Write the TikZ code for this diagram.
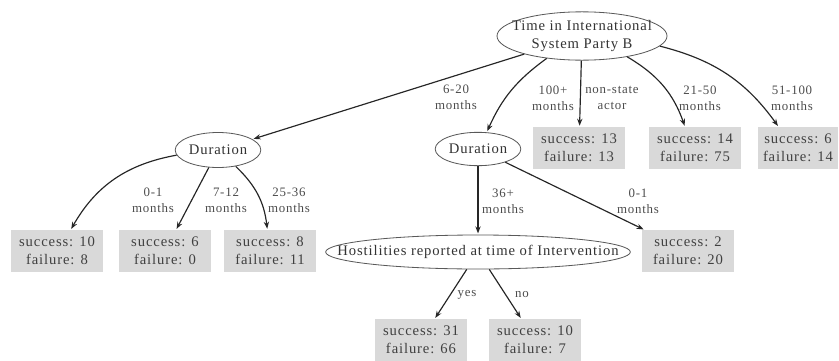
\documentclass[tikz,border=0pt]{standalone}
\usepackage{fontspec}
\setmainfont{Liberation Serif}[LetterSpace=6]
\usetikzlibrary{shapes.geometric,arrows.meta}
\tikzset{
  >=Stealth,
  shorten >=1pt,
}

\begin{document}
\begin{tikzpicture}[
  x=0.03cm, y=-0.03cm,
  >={Stealth[length=6pt,width=4.5pt]},
  arr/.style={->, line width=1pt, black!85},
  test/.style={ellipse, draw=black!65, line width=0.7pt, fill=white, text=black!80,
    inner sep=1pt, align=center, font=\fontsize{12.5}{15}\selectfont},
  leaf/.style={fill=black!15, text=black!75, minimum width=2.75cm, minimum height=1.25cm,
    inner sep=1pt, align=center, font=\fontsize{12.5}{15}\selectfont},
  lbl/.style={text=black!70, align=center, inner sep=0pt, font=\fontsize{11}{14}\selectfont}
]
\useasboundingbox (0,0) rectangle (839,360);

% split nodes
\node[test, inner xsep=-10pt, minimum width=5.1cm, minimum height=1.45cm] (root) at (582,36) {Time in International\\System Party B};
\node[test, minimum width=2.45cm, minimum height=1.05cm] (dur1) at (218,150) {Duration};
\node[test, minimum width=2.45cm, minimum height=1.0cm] (dur2) at (478,149) {Duration};
\node[test, inner xsep=-28pt, minimum width=8.95cm, minimum height=1.02cm] (host) at (478,252) {Hostilities reported at time of Intervention};

% outcome boxes
\node[leaf] (s13) at (579,148) {success: 13\\failure: 13};
\node[leaf] (s14) at (695,148) {success: 14\\failure: 75};
\node[leaf, minimum width=2.4cm] (s6b) at (798,148) {success: 6\\failure: 14};
\node[leaf] (l10) at (57,251) {success: 10\\failure: 8};
\node[leaf] (l6) at (165,251) {success: 6\\failure: 0};
\node[leaf] (l8) at (270,251) {success: 8\\failure: 11};
\node[leaf] (s2) at (688,251) {success: 2\\failure: 20};
\node[leaf] (s31) at (421,340) {success: 31\\failure: 66};
\node[leaf] (s10b) at (535,340) {success: 10\\failure: 7};

\path[arr]
(root) edge (dur1)
(root) edge[bend right=15] (dur2)
(root) edge (s13)
(root) edge[bend left=20] (s14)
(root) edge[bend left=20] (s6b)
(dur1) edge[bend right=25] (l10)
(dur1) edge (l6)
(dur1) edge[bend left=20] (l8)
(dur2) edge (host)
(dur2) edge (s2)
(host) edge (s31)
(host) edge (s10b);

% branch labels
\node[lbl] (b620) at (456,97) {6-20\\months};
\node[lbl] (b100) at (553,98) {100+\\months};
\node[lbl] (bns) at (612,98) {non-state\\actor};
\node[lbl] (b2150) at (700,98) {21-50\\months};
\node[lbl] (b51) at (792,98) {51-100\\months};
\node[lbl] (b01a) at (153,200) {0-1\\months};
\node[lbl] (b712) at (226,200) {7-12\\months};
\node[lbl] (b2536) at (289,200) {25-36\\months};
\node[lbl] (b36) at (503,201) {36+\\months};
\node[lbl] (b01b) at (638,201) {0-1\\months};
\node[lbl] (byes) at (467,295) {yes};
\node[lbl] (bno) at (522,295) {no};

\end{tikzpicture}
\end{document}
